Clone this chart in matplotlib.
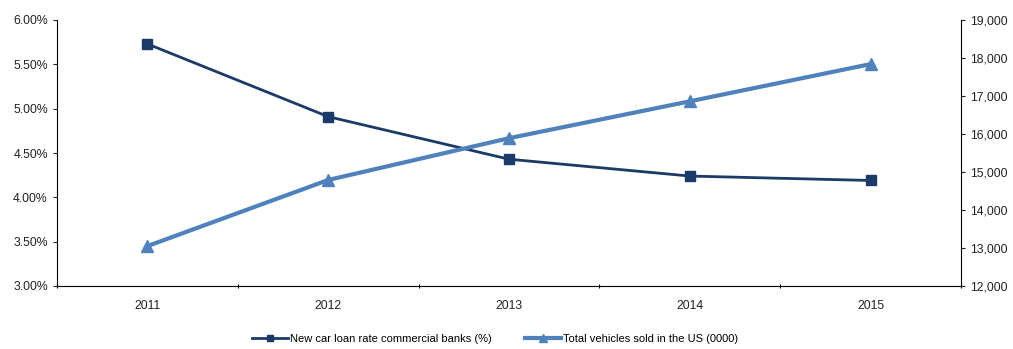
import matplotlib.pyplot as plt
from matplotlib.ticker import FuncFormatter

plt.rcParams['font.family'] = ['Liberation Sans', 'DejaVu Sans']

years = ["2011", "2012", "2013", "2014", "2015"]
loan_rate = [5.73, 4.91, 4.43, 4.24, 4.19]
vehicles = [13050, 14790, 15890, 16860, 17840]

navy = "#1B3A68"
blue = "#4F81BD"
fs = 8.8

fig = plt.figure(figsize=(10.13, 3.49), dpi=100)
ax = fig.add_axes([57/1013, 1-286/349, (961-57)/1013, 266/349])
ax2 = ax.twinx()

x = range(len(years))
l1, = ax.plot(x, loan_rate, color=navy, linewidth=2, marker="s", markersize=7,
              label="New car loan rate commercial banks (%)")
l2, = ax2.plot(x, vehicles, color=blue, linewidth=3, marker="^", markersize=9,
               label="Total vehicles sold in the US (0000)")

ax.set_xlim(-0.5, len(years) - 0.5)
ax.set_ylim(3.0, 6.0)
ax.set_yticks([3.0, 3.5, 4.0, 4.5, 5.0, 5.5, 6.0])
ax.yaxis.set_major_formatter(FuncFormatter(lambda v, p: f"{v:.2f}%"))
ax2.set_ylim(12000, 19000)
ax2.set_yticks(range(12000, 19001, 1000))
ax2.yaxis.set_major_formatter(FuncFormatter(lambda v, p: f"{int(v):,}"))

# category ticks sit between the years, labels centred on them
ax.set_xticks([i - 0.5 for i in range(len(years) + 1)])
ax.set_xticklabels([])
ax.set_xticks(list(x), minor=True)
ax.set_xticklabels(years, minor=True)
ax.tick_params(axis="x", which="minor", length=0, labelsize=fs, pad=10, labelcolor="#222222")
ax.tick_params(axis="x", which="major", length=3, direction="inout")

for a in (ax, ax2):
    a.spines["top"].set_visible(False)
    a.tick_params(axis="y", labelsize=fs, length=3, direction="out", colors="#222222", labelcolor="#222222")
ax.spines["right"].set_visible(False)
ax2.spines["left"].set_visible(False)
ax2.spines["bottom"].set_visible(False)

fig.legend([l1, l2], [l1.get_label(), l2.get_label()], loc="center",
           bbox_to_anchor=(495/1013, 1-339/349), ncol=2, frameon=False,
           fontsize=8, handlelength=3.2, columnspacing=3.0, handletextpad=0.2,
           markerscale=0.7)

fig.savefig("out.png", dpi=100)
